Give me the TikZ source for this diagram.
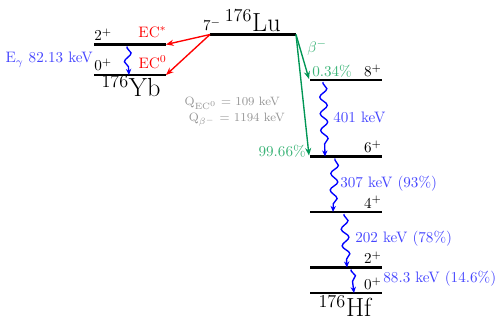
\documentclass[tikz,border=0pt]{standalone}
\usetikzlibrary{arrows.meta,decorations.pathmorphing}
\definecolor{grn}{RGB}{0,150,85}
\definecolor{grntxt}{RGB}{60,180,120}
\definecolor{bltxt}{RGB}{70,70,255}
\definecolor{gry}{RGB}{150,150,150}
\tikzset{
  lvl/.style={line width=1.5pt, black},
  decarrow/.style={line width=0.9pt, -{Stealth[length=5pt,width=4pt]}},
  gam/.style={blue, line width=0.9pt, -{Stealth[length=4pt,width=3.5pt]},
    decorate, decoration={snake, amplitude=2.4, segment length=11, post length=4pt, pre length=1pt}},
  lab/.style={inner sep=0pt},
}
\begin{document}
\begin{tikzpicture}[x=0.66pt,y=-0.66pt]
\useasboundingbox (0,0) rectangle (497,320);
% Lu
\coordinate (luL) at (210,34.5);
\coordinate (luR) at (296,34.5);
\draw[lvl] (luL) -- (luR);
\node[lab, anchor=base] (lu7) at (212,31) {$7^{-}$};
\node[lab, anchor=base east] (luname) at (281,31.5) {\LARGE $^{176}$Lu};
% Yb
\coordinate (yb2L) at (94,44.5);
\coordinate (yb2R) at (166,44.5);
\coordinate (yb0L) at (94,75);
\coordinate (yb0R) at (166,75);
\draw[lvl] (yb2L) -- (yb2R);
\draw[lvl] (yb0L) -- (yb0R);
\node[lab, anchor=base west] (yb2) at (94,41) {$2^{+}$};
\node[lab, anchor=base west] (yb0) at (94,71) {$0^{+}$};
\node[lab, anchor=base] (ybname) at (131,97) {\LARGE $^{176}$Yb};
\node[lab, anchor=base east, red] (ecs) at (167,37.5) {EC$^{*}$};
\node[lab, anchor=base east, red] (ec0) at (167,68.5) {EC$^{0}$};
\node[lab, anchor=base east, bltxt] (eg) at (93,63) {E$_\gamma$ 82.13 keV};
\coordinate (ybg1) at (127,46.5);
\coordinate (ybg2) at (129,75);
\draw[gam] (ybg1) -- (ybg2);
\draw[decarrow, red] (luL) -- (yb2R);
\draw[decarrow, red] (luL) -- (yb0R);
% Q values
\node[lab, anchor=base east, gry] (qec) at (280,106) {\footnotesize Q$_{\mathrm{EC}^0}$ = 109 keV};
\node[lab, anchor=base east, gry] (qb) at (285,121.5) {\footnotesize Q$_{\beta^-}$ = 1194 keV};
% Hf
\coordinate (hf8L) at (310,80);   \coordinate (hf8R) at (382,80);
\coordinate (hf6L) at (310,156.5); \coordinate (hf6R) at (382,156.5);
\coordinate (hf4L) at (310,212);  \coordinate (hf4R) at (382,212);
\coordinate (hf2L) at (310,267.5);  \coordinate (hf2R) at (382,267.5);
\coordinate (hf0L) at (310,293);  \coordinate (hf0R) at (382,293);
\foreach \a in {8,6,4,2,0} \draw[lvl] (hf\a L) -- (hf\a R);
\node[lab, anchor=base east] (h8) at (382,77) {$8^{+}$};
\node[lab, anchor=base east] (h6) at (382,153) {$6^{+}$};
\node[lab, anchor=base east] (h4) at (382,208.5) {$4^{+}$};
\node[lab, anchor=base east] (h2) at (382,264) {$2^{+}$};
\node[lab, anchor=base east] (h0) at (382,289.5) {$0^{+}$};
\node[lab, anchor=base] (hfname) at (345,317) {\LARGE $^{176}$Hf};
% beta arrows
\coordinate (b1) at (309,79);
\coordinate (b2) at (309,155.5);
\draw[decarrow, grn] (luR) -- (b1);
\draw[decarrow, grn] (luR) -- (b2);
\node[lab, anchor=base west, grntxt] (bm) at (307,52.5) {$\beta^{-}$};
\node[lab, anchor=base west, grntxt] (p1) at (312,77) {0.34\%};
\node[lab, anchor=base east, grntxt] (p2) at (306,157) {99.66\%};
% gammas
\coordinate (g1a) at (323,82); \coordinate (g1b) at (325,156.5);
\coordinate (g2a) at (335,158.5); \coordinate (g2b) at (333,212);
\coordinate (g3a) at (344,214); \coordinate (g3b) at (347,267.5);
\coordinate (g4a) at (351,269.5); \coordinate (g4b) at (354,293);
\draw[gam] (g1a) -- (g1b);
\draw[gam] (g2a) -- (g2b);
\draw[gam] (g3a) -- (g3b);
\draw[gam] (g4a) -- (g4b);
\node[lab, anchor=base west, bltxt] (e1) at (333,123) {401 keV};
\node[lab, anchor=base west, bltxt] (e2) at (340,187.5) {307 keV (93\%)};
\node[lab, anchor=base west, bltxt] (e3) at (355,243) {202 keV (78\%)};
\node[lab, anchor=base east, bltxt] (e4) at (496.5,283) {88.3 keV (14.6\%)};
\end{tikzpicture}
\end{document}
